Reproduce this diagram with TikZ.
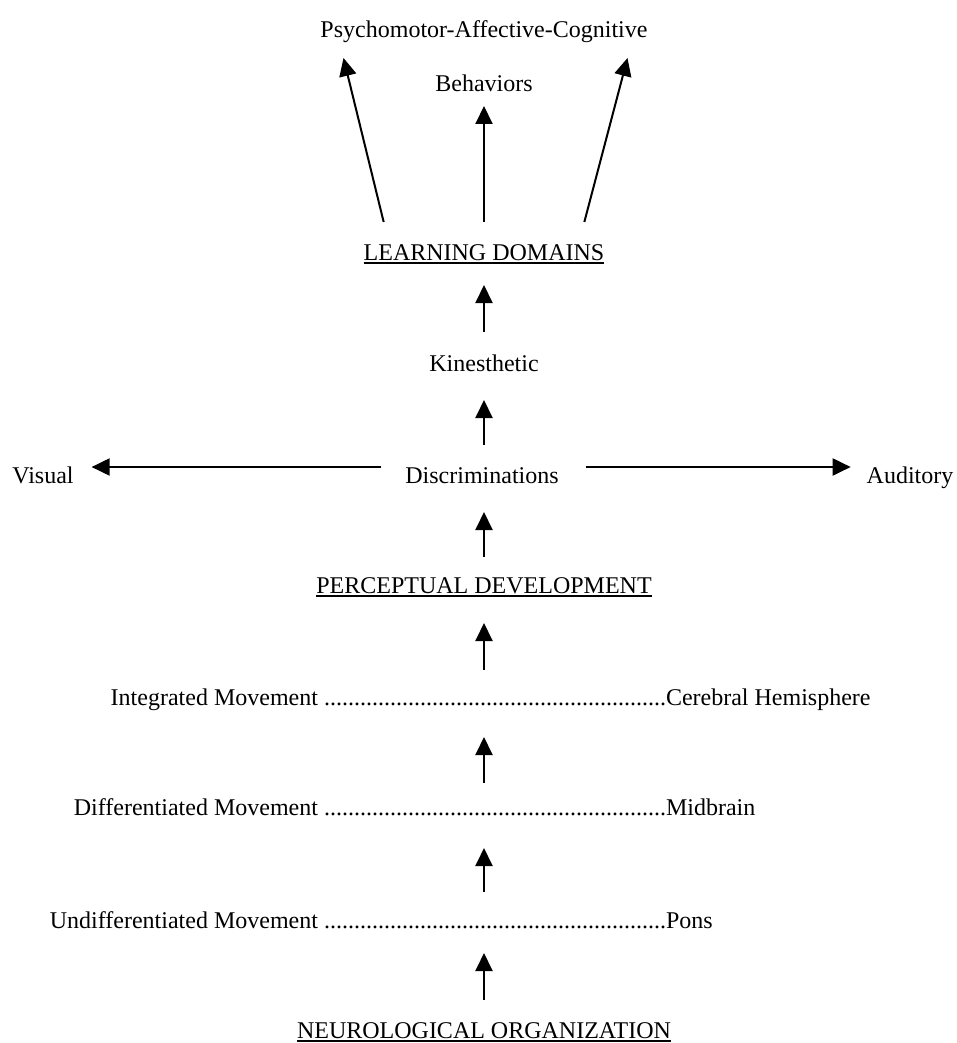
\documentclass[tikz,border=0pt]{standalone}
\usepackage{fontspec}
\setmainfont{Liberation Serif}
\usetikzlibrary{arrows.meta}
% underlined heading with a heavier rule just below the baseline
\newcommand\ulhead[1]{\vtop{\hbox{#1}\kern2pt\hrule height 1.8pt}}
\newcommand\leaderdots{.........................................................}

\begin{document}
\begin{tikzpicture}[x=1pt,y=-1pt,
  lbl/.style={inner sep=0pt, outer sep=0pt, text height=17pt, text depth=5pt,
              font=\fontsize{24}{28}\selectfont, anchor=base},
  arr/.style={-{Triangle[length=18pt,width=17pt]}, line width=2pt},
]
\path[use as bounding box] (0,0) rectangle (956,1043);

% top outcomes
\node[lbl] (psy) at (484,38) {Psychomotor-Affective-Cognitive};
\node[lbl] (beh) at (484,92) {Behaviors};
\node[lbl] (ld)  at (484,260) {\ulhead{LEARNING DOMAINS}};
\node[lbl] (kin) at (484,371) {Kinesthetic};

% discriminations row
\node[lbl] (disc) at (482,483) {Discriminations};
\node[lbl] (vis)  at (43,483) {Visual};
\node[lbl] (aud)  at (910,483) {Auditory};

\node[lbl] (perc) at (484,593) {\ulhead{PERCEPTUAL DEVELOPMENT}};

% movement / brain level rows
\node[lbl, anchor=base east] (int)   at (318,705) {Integrated Movement};
\node[lbl, anchor=base west] (lead1) at (324,705) {\leaderdots};
\node[lbl, anchor=base west] (cer)   at (lead1.base east) {Cerebral Hemisphere};

\node[lbl, anchor=base east] (dif)   at (318,815) {Differentiated Movement};
\node[lbl, anchor=base west] (lead2) at (324,815) {\leaderdots};
\node[lbl, anchor=base west] (mid)   at (lead2.base east) {Midbrain};

\node[lbl, anchor=base east] (und)   at (318,928) {Undifferentiated Movement};
\node[lbl, anchor=base west] (lead3) at (324,928) {\leaderdots};
\node[lbl, anchor=base west] (pons)  at (lead3.base east) {Pons};

\node[lbl] (neuro) at (484,1038) {\ulhead{NEUROLOGICAL ORGANIZATION}};

% fan of arrows to the behaviours
\draw[arr] ([shift={(20,-21)}]ld.north west) -- ([shift={(23,15)}]psy.south west);
\draw[arr, shorten <=21pt, shorten >=9pt] (ld.north) -- (beh.south);
\draw[arr] ([shift={(-20,-21)}]ld.north east) -- ([shift={(-20,15)}]psy.south east);

% vertical chain
\draw[arr, shorten <=22pt, shorten >=20pt] (kin.north) -- (ld.south);
\draw[arr, shorten <=21pt, shorten >=24pt] (kin.south |- disc.north) -- (kin.south);
\draw[arr, shorten <=19pt, shorten >=24pt] (perc.north) -- (perc.north |- disc.south);
\draw[arr, shorten <=18pt, shorten >=25pt] (perc.south |- lead1.north) -- (perc.south);
\draw[arr, shorten <=15pt, shorten >=27pt] (perc.south |- lead2.north) -- (perc.south |- lead1.south);
\draw[arr, shorten <=19pt, shorten >=28pt] (perc.south |- lead3.north) -- (perc.south |- lead2.south);
\draw[arr, shorten <=21pt, shorten >=20pt] (neuro.north) -- (neuro.north |- lead3.south);

% sideways discriminations
\draw[arr, shorten <=24pt, shorten >=18pt] ([yshift=10pt]disc.west) -- ([yshift=10pt]vis.east);
\draw[arr, shorten <=27pt, shorten >=16pt] ([yshift=10pt]disc.east) -- ([yshift=10pt]aud.west);
\end{tikzpicture}
\end{document}
